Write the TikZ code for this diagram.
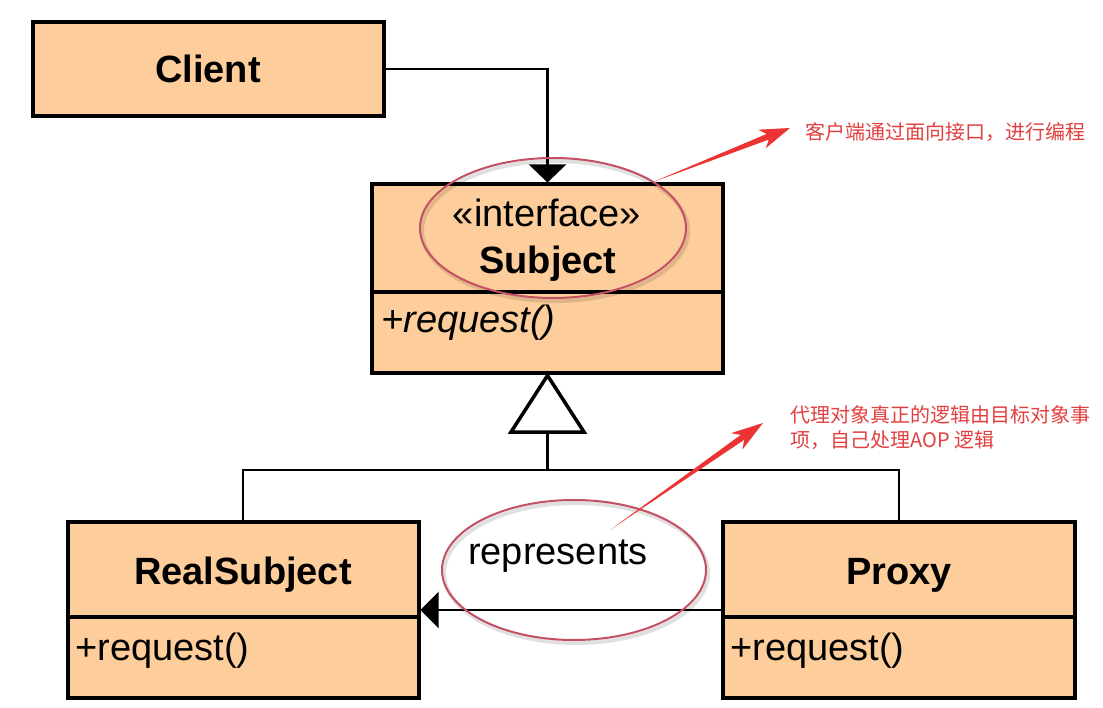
\documentclass[tikz,border=0pt]{standalone}
\usepackage{fontspec}
\setmainfont{Liberation Sans}
\newfontfamily\cjk{Noto Sans CJK SC}
\usetikzlibrary{calc,arrows.meta}
\definecolor{boxfill}{RGB}{253,206,155}
\definecolor{ringred}{RGB}{196,80,100}
\definecolor{arrowred}{RGB}{236,52,52}
\definecolor{notered}{RGB}{226,64,64}
\begin{document}
\begin{tikzpicture}[x=1pt,y=-1pt,
  umlbox/.style={draw=black, fill=boxfill, line width=4pt, inner sep=0pt},
  divider/.style={draw=black, line width=4pt},
  conn/.style={draw=black, line width=2.5pt},
  bigtext/.style={font=\fontsize{38}{44}\selectfont, inner sep=0pt, anchor=base},
  bigbold/.style={font=\fontsize{38}{44}\selectfont\bfseries, inner sep=0pt, anchor=base},
  bigital/.style={font=\fontsize{38}{44}\selectfont\itshape, inner sep=0pt, anchor=base west},
  ring/.style={draw=ringred, line width=2pt},
  ringshadow/.style={draw=black, opacity=0.12, line width=4pt},
  note/.style={font=\cjk\fontsize{20}{25}\selectfont, text=notered, inner sep=0pt, anchor=base west}]
\useasboundingbox (0,0) rectangle (1103,708);
\fill[white] (0,0) rectangle (1103,708);

% boxes
\node[umlbox, minimum width=351pt, minimum height=94pt] (client) at (208,69) {};
\node[umlbox, minimum width=351pt, minimum height=189pt] (subj) at (547.5,279) {};
\node[umlbox, minimum width=351pt, minimum height=176pt] (real) at (243,610) {};
\node[umlbox, minimum width=352pt, minimum height=176pt] (proxy) at (899,610) {};

\coordinate (sdiv) at (0,292);
\coordinate (bdiv) at (0,617);
\draw[divider] (subj.west |- sdiv) -- (subj.east |- sdiv);
\draw[divider] (real.west |- bdiv) -- (real.east |- bdiv);
\draw[divider] (proxy.west |- bdiv) -- (proxy.east |- bdiv);

% texts
\node[bigbold] (clientname) at (208,83) {Client};
\node[bigtext] (stereo) at (547,227) {«interface»};
\node[bigbold] (subjname) at (548,274) {Subject};
\node[bigital] (subjop) at (381,333) {+request()};
\node[bigbold] (realname) at (243,584) {RealSubject};
\node[bigtext, anchor=base west] (realop) at (75,660) {+request()};
\node[bigbold] (proxyname) at (899,584) {Proxy};
\node[bigtext, anchor=base west] (proxyop) at (730,660) {+request()};
\node[bigtext, anchor=base west] (rep) at (468,564) {represents};

% client -> subject
\draw[conn, -{Triangle[length=18pt,width=37pt]}] (client.east) -| (subj.north);

% generalization
\coordinate (tribase) at (547.5,432);
\coordinate (junc) at (547.5,470);
\draw[line width=3.5pt, line join=miter, fill=white] (subj.south) -- (511,432) -- (584,432) -- cycle;
\draw[conn] (tribase) -- (junc);
\draw[conn] (real.north) |- (junc) -| (proxy.north);

% represents
\draw[conn, -{Triangle[length=18pt,width=36pt]}] (proxy.west) -- (real.east);

% rings
\draw[ringshadow] (555,231) ellipse [x radius=133pt, y radius=70pt];
\draw[ring] (553,228) ellipse [x radius=133pt, y radius=70pt];
\draw[ringshadow] (576,573) ellipse [x radius=132pt, y radius=70pt];
\draw[ring] (574,570) ellipse [x radius=132pt, y radius=70pt];

% red annotation arrows
\coordinate (t1) at (653,182);
\coordinate (h1) at (790,128);
\coordinate (b1) at ($(h1)!30pt!(t1)$);
\coordinate (n1) at ($(h1)!24pt!(t1)$);
\fill[arrowred] (t1) -- ($(n1)!3pt!90:(h1)$) -- ($(b1)!10pt!90:(h1)$) -- (h1)
  -- ($(b1)!10pt!-90:(h1)$) -- ($(n1)!3pt!-90:(h1)$) -- cycle;

\coordinate (t2) at (610,530);
\coordinate (h2) at (763,423);
\coordinate (b2) at ($(h2)!32pt!(t2)$);
\coordinate (n2) at ($(h2)!25pt!(t2)$);
\fill[arrowred] (t2) -- ($(n2)!3pt!90:(h2)$) -- ($(b2)!10pt!90:(h2)$) -- (h2)
  -- ($(b2)!10pt!-90:(h2)$) -- ($(n2)!3pt!-90:(h2)$) -- cycle;

% notes
\node[note] (note1) at (805,140) {客户端通过面向接口，进行编程};
\node[note] (note2a) at (790,422) {代理对象真正的逻辑由目标对象事};
\node[note] (note2b) at (790,447) {项，自己处理AOP 逻辑};
\end{tikzpicture}
\end{document}
